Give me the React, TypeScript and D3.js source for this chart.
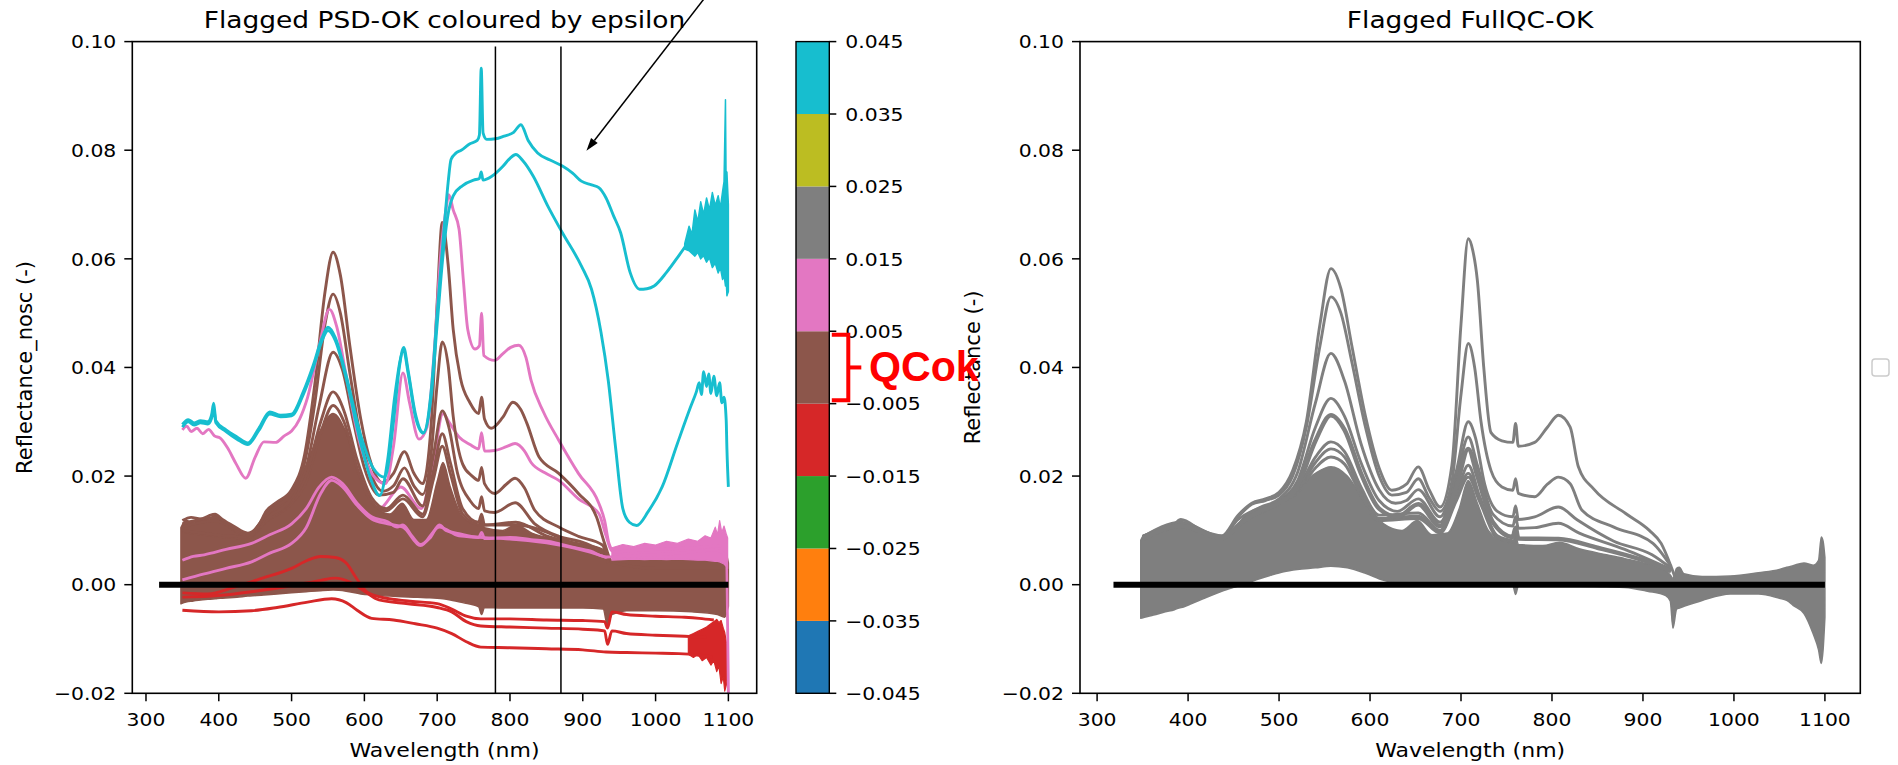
import React, { useEffect } from 'react';
import * as d3 from 'd3';

type Pt = [number, number];
type Band = [number, number, number];

// ---------- axes / legend values ----------
const X_DOMAIN: [number, number] = [281.2, 1138.9];
const Y_DOMAIN: [number, number] = [-0.02, 0.1];
const X_TICKS = [300, 400, 500, 600, 700, 800, 900, 1000, 1100];
const Y_TICKS = [-0.02, 0.0, 0.02, 0.04, 0.06, 0.08, 0.1];
const CB_BOUNDS = [-0.045, -0.035, -0.025, -0.015, -0.005, 0.005, 0.015, 0.025, 0.035, 0.045];
const CB_COLORS = ['#1f77b4', '#ff7f0e', '#2ca02c', '#d62728', '#8c564b', '#e377c2', '#7f7f7f', '#bcbd22', '#17becf'];
const QC_RANGE: [number, number] = [-0.005, 0.005];
const V_LINES = [780, 870];
const V_LINE_SPAN: [number, number] = [-0.0202, 0.0991];
const ZERO_SPAN: [number, number] = [318, 1100];
const ARROW_FROM: Pt = [1069, 0.1083];
const ARROW_TO: Pt = [905, 0.0799];

const EPS_CYAN = 0.04;
const EPS_PINK = 0.01;
const EPS_BROWN = 0.0;
const EPS_RED = -0.01;
const GRAY = '#7f7f7f';

// ---------- left panel: PSD-OK spectra ----------
const CYAN_1: Pt[] = [[350,0.0295],[358,0.0304],[366,0.0298],[375,0.0302],[385,0.0300],[390,0.0312],[393,0.0334],[396,0.0302],[410,0.0285],[425,0.0272],[440,0.0261],[455,0.0288],[470,0.0318],[485,0.0312],[500,0.0314],[516,0.0355],[530,0.0405],[542,0.0455],[550,0.0474],[560,0.0455],[575,0.0385],[595,0.0275],[612,0.0215],[628,0.0198],[640,0.0300],[648,0.0400],[654,0.0437],[660,0.0395],[670,0.0315],[681,0.0280],[692,0.0360],[700,0.0500],[709,0.0648],[715,0.0740],[719,0.0783],[726,0.0795],[733,0.0800],[745,0.0812],[755,0.0818],[758,0.0828],[760.5,0.0951],[763,0.0832],[768,0.0820],[780,0.0821],[792,0.0826],[805,0.0833],[815,0.0847],[825,0.0818],[838,0.0795],[855,0.0782],[872,0.0771],[886,0.0758],[898,0.0743],[912,0.0736],[922,0.0731],[932,0.0712],[942,0.0680],[952,0.0648],[965,0.0575],[978,0.0544],[988,0.0545],[998,0.0550],[1015,0.0575],[1032,0.0606],[1042,0.0625]];
const CYAN_1_NOISE: Band[] = [[1040,0.0618,0.0628],[1046,0.0615,0.0660],[1050,0.0610,0.0645],[1054,0.0605,0.0690],[1058,0.0612,0.0668],[1062,0.0600,0.0705],[1066,0.0606,0.0682],[1070,0.0594,0.0712],[1074,0.0602,0.0690],[1078,0.0584,0.0722],[1082,0.0592,0.0698],[1086,0.0574,0.0716],[1089,0.0584,0.0694],[1092,0.0562,0.0724],[1094,0.0570,0.0742],[1096,0.0550,0.0893],[1097,0.0560,0.0720],[1098,0.0532,0.0760],[1100,0.0540,0.0700]];
const CYAN_2: Pt[] = [[350,0.0290],[358,0.0300],[366,0.0294],[375,0.0298],[385,0.0296],[390,0.0306],[393,0.0326],[396,0.0298],[410,0.0282],[425,0.0268],[440,0.0258],[455,0.0284],[470,0.0314],[485,0.0309],[500,0.0311],[516,0.0350],[530,0.0400],[542,0.0450],[550,0.0468],[560,0.0450],[575,0.0380],[595,0.0260],[610,0.0190],[621,0.0164],[632,0.0230],[642,0.0350],[654,0.0431],[660,0.0390],[670,0.0310],[681,0.0279],[692,0.0350],[700,0.0480],[709,0.0620],[716,0.0690],[722,0.0716],[735,0.0735],[750,0.0745],[758,0.0748],[760.5,0.0760],[763,0.0745],[775,0.0752],[790,0.0770],[800,0.0785],[808,0.0792],[818,0.0780],[832,0.0752],[852,0.0697],[872,0.0648],[898,0.0587],[912,0.0544],[925,0.0465],[935,0.0376],[945,0.0253],[955,0.0140],[964,0.0115],[974,0.0109],[990,0.0135],[1009,0.0180],[1030,0.0260],[1048,0.0327],[1056,0.0355],[1060,0.0372],[1063,0.0350],[1066,0.0392],[1070,0.0365],[1073,0.0388],[1076,0.0352],[1080,0.0384],[1084,0.0348],[1088,0.0372],[1091,0.0335],[1094,0.0345],[1097,0.0303],[1098,0.0250],[1100,0.0180]];

const PINK_1: Pt[] = [[350,0.0285],[356,0.0292],[362,0.0282],[370,0.0288],[378,0.0278],[386,0.0286],[394,0.0274],[402,0.0270],[412,0.0252],[424,0.0222],[437,0.0196],[450,0.0235],[462,0.0263],[478,0.0262],[490,0.0274],[500,0.0283],[511,0.0305],[522,0.0345],[538,0.0440],[552,0.0507],[562,0.0475],[575,0.0385],[592,0.0270],[610,0.0205],[629,0.0186],[640,0.0255],[653,0.0390],[662,0.0335],[675,0.0268],[686,0.0290],[696,0.0430],[705,0.0610],[712,0.0690],[716,0.0718],[722,0.0690],[730,0.0655],[736,0.0560],[742,0.0470],[752,0.0434],[758,0.0440],[761,0.0500],[764,0.0422],[779,0.0413],[790,0.0425],[801,0.0437],[812,0.0441],[822,0.0418],[829,0.0376],[846,0.0318],[867,0.0266],[894,0.0205],[922,0.0150],[930,0.0118],[936,0.0076],[944,0.0060],[960,0.0062],[1000,0.0065],[1050,0.0068],[1090,0.0072]];
const PINK_2: Pt[] = [[350,0.0100],[400,0.0108],[440,0.0090],[480,0.0140],[520,0.0210],[545,0.0280],[557,0.0300],[575,0.0260],[600,0.0180],[620,0.0140],[650,0.0180],[678,0.0140],[695,0.0230],[708,0.0315],[716,0.0300],[730,0.0272],[745,0.0258],[757,0.0250],[761,0.0280],[765,0.0246],[779,0.0247],[795,0.0254],[807,0.0260],[820,0.0246],[829,0.0225],[848,0.0206],[867,0.0192],[894,0.0158],[922,0.0131],[932,0.0090],[940,0.0062],[1000,0.0063],[1050,0.0066],[1095,0.0070]];
const PINK_3: Pt[] = [[350,0.0045],[365,0.0052],[380,0.0055],[410,0.0065],[445,0.0076],[470,0.0092],[500,0.0112],[520,0.0140],[538,0.0180],[555,0.0198],[570,0.0186],[590,0.0150],[610,0.0125],[632,0.0116],[645,0.0106],[653,0.0110],[665,0.0090],[677,0.0074],[690,0.0086],[703,0.0110],[712,0.0100],[730,0.0094],[757,0.0087],[761,0.0096],[765,0.0085],[800,0.0087],[829,0.0083],[860,0.0078],[883,0.0070],[910,0.0062],[933,0.0051],[950,0.0052],[1000,0.0055],[1050,0.0060],[1080,0.0064],[1097,0.0055],[1100,-0.0200]];
const PINK_4: Pt[] = [[350,0.0009],[380,0.0020],[410,0.0030],[445,0.0042],[470,0.0058],[500,0.0076],[520,0.0105],[540,0.0168],[555,0.0192],[570,0.0180],[590,0.0146],[610,0.0121],[632,0.0112],[653,0.0106],[677,0.0072],[703,0.0106],[730,0.0090],[800,0.0084],[860,0.0075],[910,0.0060],[933,0.0050]];
const PINK_NOISE: Band[] = [[940,0.0045,0.0068],[955,0.0046,0.0074],[970,0.0047,0.0070],[985,0.0046,0.0076],[1000,0.0047,0.0073],[1015,0.0046,0.0080],[1030,0.0047,0.0076],[1045,0.0046,0.0084],[1058,0.0045,0.0080],[1068,0.0045,0.0090],[1076,0.0044,0.0086],[1082,0.0043,0.0106],[1085,0.0043,0.0092],[1088,0.0042,0.0118],[1091,0.0040,0.0096],[1094,0.0038,0.0108],[1097,0.0034,0.0094],[1099,0.0030,0.0086]];

const BROWN_BAND: Band[] = [[348,-0.0035,0.0105],[355,-0.0032,0.0118],[365,-0.0030,0.0115],[375,-0.0028,0.0122],[385,-0.0027,0.0120],[395,-0.0026,0.0128],[402,-0.0025,0.0118],[415,-0.0024,0.0112],[425,-0.0023,0.0100],[440,-0.0021,0.0093],[452,-0.0020,0.0098],[462,-0.0019,0.0125],[480,-0.0017,0.0150],[500,-0.0015,0.0170],[520,-0.0013,0.0220],[540,-0.0011,0.0285],[557,-0.0010,0.0315],[575,-0.0012,0.0280],[595,-0.0017,0.0195],[615,-0.0019,0.0145],[635,-0.0021,0.0130],[652,-0.0022,0.0150],[668,-0.0023,0.0120],[685,-0.0024,0.0120],[700,-0.0025,0.0190],[708,-0.0026,0.0225],[718,-0.0028,0.0180],[735,-0.0033,0.0125],[757,-0.0041,0.0110],[761,-0.0055,0.0125],[765,-0.0042,0.0105],[790,-0.0043,0.0100],[808,-0.0043,0.0110],[830,-0.0043,0.0095],[870,-0.0043,0.0082],[900,-0.0043,0.0075],[928,-0.0045,0.0065],[934,-0.0075,0.0050],[940,-0.0055,0.0045],[960,-0.0048,0.0045],[1000,-0.0048,0.0045],[1050,-0.0050,0.0048],[1085,-0.0055,0.0055],[1095,-0.0060,0.0065],[1100,-0.0040,0.0040]];
const BROWN_1: Pt[] = [[350,0.0118],[362,0.0124],[375,0.0121],[385,0.0126],[395,0.0130],[405,0.0120],[420,0.0108],[440,0.0095],[455,0.0110],[465,0.0135],[480,0.0152],[500,0.0175],[518,0.0240],[532,0.0370],[546,0.0540],[557,0.0612],[567,0.0570],[580,0.0440],[595,0.0305],[610,0.0220],[625,0.0188],[640,0.0205],[655,0.0245],[668,0.0205],[680,0.0186],[692,0.0300],[700,0.0520],[707,0.0667],[715,0.0590],[722,0.0470],[732,0.0380],[745,0.0335],[757,0.0315],[761,0.0345],[765,0.0305],[774,0.0288],[790,0.0308],[804,0.0336],[815,0.0322],[823,0.0298],[840,0.0235],[867,0.0205],[894,0.0168],[919,0.0124],[930,0.0076],[940,0.0042],[1000,0.0030],[1100,0.0030]];
const BROWN_2: Pt[] = [[350,0.0112],[395,0.0124],[420,0.0104],[440,0.0092],[465,0.0128],[480,0.0146],[500,0.0167],[518,0.0225],[532,0.0335],[546,0.0480],[557,0.0535],[567,0.0500],[580,0.0390],[595,0.0270],[610,0.0200],[625,0.0172],[640,0.0182],[655,0.0215],[668,0.0182],[680,0.0166],[692,0.0245],[700,0.0370],[707,0.0447],[715,0.0405],[722,0.0310],[735,0.0222],[748,0.0200],[757,0.0192],[761,0.0216],[765,0.0186],[779,0.0168],[795,0.0185],[807,0.0196],[820,0.0178],[834,0.0137],[867,0.0106],[894,0.0089],[927,0.0073],[935,0.0040]];
const BROWN_3: Pt[] = [[350,0.0106],[395,0.0118],[440,0.0090],[465,0.0122],[500,0.0160],[520,0.0215],[538,0.0330],[557,0.0428],[570,0.0395],[585,0.0300],[600,0.0215],[620,0.0165],[640,0.0170],[653,0.0195],[680,0.0145],[695,0.0240],[707,0.0320],[716,0.0290],[728,0.0205],[745,0.0155],[757,0.0140],[761,0.0162],[765,0.0136],[779,0.0133],[807,0.0151],[834,0.0112],[867,0.0089],[900,0.0078],[930,0.0060]];
const BROWN_4: Pt[] = [[350,0.0100],[440,0.0088],[465,0.0118],[500,0.0155],[520,0.0200],[540,0.0300],[557,0.0355],[572,0.0320],[590,0.0230],[610,0.0160],[630,0.0140],[653,0.0165],[680,0.0130],[695,0.0210],[707,0.0278],[718,0.0225],[735,0.0140],[757,0.0115],[761,0.0130],[765,0.0110],[808,0.0115],[850,0.0090],[900,0.0072],[930,0.0058]];
const BROWN_5: Pt[] = [[350,0.0098],[440,0.0086],[465,0.0116],[500,0.0150],[520,0.0190],[540,0.0280],[557,0.0330],[572,0.0300],[590,0.0215],[610,0.0152],[630,0.0136],[653,0.0158],[680,0.0125],[695,0.0195],[707,0.0255],[718,0.0205],[735,0.0130],[760,0.0110],[808,0.0110],[900,0.0070],[930,0.0058]];

const RED_A: Pt[] = [[350,-0.0015],[385,-0.0017],[420,-0.0005],[460,0.0012],[500,0.0030],[522,0.0045],[540,0.0052],[560,0.0050],[575,0.0040],[590,0.0010],[605,-0.0015],[630,-0.0025],[660,-0.0030],[700,-0.0035],[720,-0.0045],[740,-0.0058],[760,-0.0063],[800,-0.0063],[850,-0.0065],[900,-0.0066],[930,-0.0068],[934,-0.0080],[940,-0.0050],[960,-0.0055],[1000,-0.0058],[1040,-0.0060],[1060,-0.0062],[1080,-0.0065]];
const RED_B: Pt[] = [[350,-0.0023],[400,-0.0020],[450,-0.0012],[500,-0.0002],[540,0.0008],[560,0.0012],[580,0.0005],[600,-0.0012],[620,-0.0028],[660,-0.0035],[700,-0.0042],[720,-0.0050],[740,-0.0068],[760,-0.0076],[800,-0.0078],[850,-0.0080],[900,-0.0082],[930,-0.0085],[934,-0.0110],[940,-0.0085],[960,-0.0090],[1000,-0.0093],[1040,-0.0095],[1070,-0.0097]];
const RED_C: Pt[] = [[350,-0.0047],[400,-0.0050],[445,-0.0048],[480,-0.0042],[522,-0.0032],[555,-0.0026],[575,-0.0033],[590,-0.0047],[610,-0.0062],[640,-0.0065],[670,-0.0072],[700,-0.0080],[720,-0.0090],[740,-0.0105],[760,-0.0115],[800,-0.0116],[850,-0.0118],[900,-0.0120],[932,-0.0124],[960,-0.0125],[1000,-0.0126],[1032,-0.0127],[1060,-0.0130],[1078,-0.0133]];
const RED_NOISE: Band[] = [[1045,-0.0128,-0.0094],[1052,-0.0134,-0.0090],[1058,-0.0128,-0.0086],[1064,-0.0140,-0.0082],[1070,-0.0134,-0.0078],[1076,-0.0148,-0.0072],[1080,-0.0140,-0.0068],[1084,-0.0160,-0.0064],[1087,-0.0150,-0.0070],[1090,-0.0182,-0.0066],[1093,-0.0170,-0.0080],[1095,-0.0196,-0.0088],[1097,-0.0186,-0.0104],[1100,-0.0160,-0.0120]];

// ---------- right panel: FullQC-OK spectra ----------
const GRAY_BAND: Band[] = [[348,-0.0062,0.0082],[352,-0.0060,0.0092],[362,-0.0056,0.0096],[375,-0.0050,0.0100],[385,-0.0046,0.0112],[390,-0.0043,0.0120],[395,-0.0041,0.0113],[402,-0.0036,0.0106],[415,-0.0027,0.0096],[437,-0.0012,0.0088],[450,-0.0005,0.0100],[460,0.0000,0.0122],[475,0.0009,0.0140],[490,0.0017,0.0148],[505,0.0024,0.0160],[520,0.0028,0.0178],[540,0.0031,0.0205],[557,0.0034,0.0217],[575,0.0031,0.0200],[595,0.0021,0.0150],[615,0.0008,0.0112],[635,0.0001,0.0100],[652,0.0000,0.0118],[668,0.0000,0.0092],[685,-0.0001,0.0095],[698,-0.0001,0.0140],[708,-0.0001,0.0192],[718,-0.0001,0.0150],[730,-0.0001,0.0100],[745,-0.0002,0.0082],[757,-0.0002,0.0078],[760,-0.0018,0.0092],[763,-0.0003,0.0074],[790,-0.0003,0.0072],[808,-0.0003,0.0078],[830,-0.0003,0.0066],[860,-0.0004,0.0055],[880,-0.0005,0.0048],[905,-0.0012,0.0038],[925,-0.0020,0.0026],[930,-0.0030,0.0018],[933,-0.0080,0.0012],[937,-0.0045,0.0030],[940,-0.0043,0.0032],[945,-0.0040,0.0020],[965,-0.0029,0.0015],[996,-0.0017,0.0016],[1027,-0.0017,0.0022],[1050,-0.0025,0.0028],[1058,-0.0029,0.0032],[1065,-0.0038,0.0035],[1077,-0.0053,0.0040],[1087,-0.0090,0.0036],[1093,-0.0120,0.0045],[1096,-0.0145,0.0088],[1098,-0.0120,0.0080],[1100,-0.0060,0.0050]];
const GRAY_1: Pt[] = [[350,0.0090],[385,0.0110],[392,0.0120],[415,0.0100],[437,0.0090],[455,0.0128],[470,0.0150],[485,0.0158],[500,0.0170],[515,0.0210],[530,0.0300],[545,0.0480],[557,0.0582],[568,0.0545],[580,0.0440],[595,0.0310],[610,0.0215],[624,0.0174],[640,0.0185],[653,0.0217],[665,0.0175],[677,0.0143],[690,0.0220],[700,0.0480],[708,0.0637],[713,0.0615],[718,0.0560],[725,0.0400],[733,0.0280],[745,0.0265],[757,0.0262],[760,0.0297],[763,0.0255],[781,0.0262],[795,0.0290],[807,0.0312],[820,0.0290],[829,0.0217],[846,0.0176],[881,0.0131],[907,0.0100],[920,0.0076],[931,0.0033],[936,0.0010]];
const GRAY_2: Pt[] = [[350,0.0088],[392,0.0115],[437,0.0088],[455,0.0125],[470,0.0148],[485,0.0155],[500,0.0165],[515,0.0200],[530,0.0290],[545,0.0440],[557,0.0530],[568,0.0500],[580,0.0410],[595,0.0290],[610,0.0200],[624,0.0165],[640,0.0170],[653,0.0195],[665,0.0160],[677,0.0135],[690,0.0190],[700,0.0350],[708,0.0444],[715,0.0400],[722,0.0300],[733,0.0210],[745,0.0180],[757,0.0174],[760,0.0195],[763,0.0168],[781,0.0162],[795,0.0185],[807,0.0198],[820,0.0186],[833,0.0137],[868,0.0106],[911,0.0076],[931,0.0033]];
const GRAY_3: Pt[] = [[350,0.0088],[392,0.0112],[437,0.0088],[455,0.0120],[480,0.0143],[500,0.0158],[520,0.0205],[540,0.0335],[557,0.0426],[572,0.0375],[590,0.0260],[610,0.0175],[628,0.0150],[640,0.0155],[653,0.0175],[677,0.0125],[695,0.0210],[708,0.0300],[716,0.0270],[726,0.0185],[740,0.0135],[757,0.0125],[760,0.0145],[763,0.0120],[781,0.0125],[807,0.0143],[828,0.0119],[868,0.0080],[910,0.0055],[931,0.0030]];
const GRAY_4: Pt[] = [[350,0.0086],[392,0.0110],[437,0.0087],[460,0.0118],[480,0.0140],[500,0.0155],[520,0.0190],[540,0.0290],[557,0.0343],[572,0.0310],[590,0.0225],[610,0.0155],[630,0.0135],[653,0.0158],[677,0.0115],[695,0.0195],[708,0.0272],[718,0.0220],[735,0.0130],[757,0.0108],[760,0.0125],[763,0.0104],[781,0.0105],[807,0.0113],[830,0.0095],[880,0.0065],[931,0.0028]];
const GRAY_5: Pt[] = [[350,0.0084],[392,0.0108],[437,0.0086],[460,0.0116],[480,0.0136],[500,0.0150],[520,0.0180],[540,0.0265],[557,0.0312],[572,0.0285],[590,0.0205],[610,0.0140],[630,0.0125],[653,0.0148],[677,0.0108],[695,0.0180],[708,0.0250],[718,0.0200],[735,0.0115],[757,0.0088],[760,0.0105],[763,0.0085],[807,0.0084],[850,0.0068],[900,0.0045],[931,0.0025]];
const GRAY_6: Pt[] = [[460,0.0120],[500,0.0150],[520,0.0175],[540,0.0235],[557,0.0263],[572,0.0245],[590,0.0180],[610,0.0128],[653,0.0132],[677,0.0100],[695,0.0165],[708,0.0220],[720,0.0165],[740,0.0090],[760,0.0080]];
const GRAY_7: Pt[] = [[470,0.0135],[500,0.0150],[520,0.0172],[540,0.0225],[557,0.0250],[572,0.0235],[590,0.0172],[610,0.0122],[653,0.0126],[677,0.0097],[695,0.0160],[708,0.0205],[720,0.0160],[740,0.0088],[760,0.0078]];
const GRAY_8: Pt[] = [[480,0.0140],[500,0.0152],[520,0.0170],[540,0.0215],[557,0.0235],[572,0.0222],[590,0.0165],[610,0.0118],[653,0.0122],[677,0.0095],[695,0.0155],[708,0.0198],[720,0.0155],[740,0.0086],[760,0.0077]];

// ---------- layout ----------
const W = 1898, H = 765;
const PY0 = 41.6, PY1 = 693.3;
const LEFT_X: [number, number] = [132.3, 756.7];
const RIGHT_X: [number, number] = [1080, 1860.3];
const CB_X: [number, number] = [796, 829.3];
const FONT = "'DejaVu Sans', 'Liberation Sans', sans-serif";
const SX = 1.1;
const TICK_FS = 18.5;
const LABEL_FS = 20;
const TITLE_FS = 23;
const LW = 2.9;

const cbColor = d3.scaleThreshold<number, string>().domain(CB_BOUNDS.slice(1, -1)).range(CB_COLORS);
const fmtMinus = (s: string) => s.replace('-', '\u2212');

function T(props: { x: number; y: number; size: number; anchor?: string; sx?: number; dy?: string; children: any; rotate?: number; weight?: string; fill?: string; family?: string }) {
  const { x, y, size, anchor = 'start', sx = SX, dy, children, rotate, weight, fill = '#000', family = FONT } = props;
  const tr = rotate ? `translate(${x},${y}) rotate(${rotate})` : `translate(${x},${y}) scale(${sx},1)`;
  return (
    <text transform={tr} fontSize={size} textAnchor={anchor} dy={dy} fontFamily={family} fontWeight={weight} fill={fill}>
      {children}
    </text>
  );
}

type Sc = { xs: d3.ScaleLinear<number, number>; ys: d3.ScaleLinear<number, number> };

function lineP({ xs, ys }: Sc, data: Pt[]) {
  return d3.line<Pt>().x(d => xs(d[0])).y(d => ys(d[1])).curve(d3.curveMonotoneX)(data) || '';
}
function bandP({ xs, ys }: Sc, data: Band[], jagged = false) {
  return d3.area<Band>().x(d => xs(d[0])).y0(d => ys(d[1])).y1(d => ys(d[2])).curve(jagged ? d3.curveLinear : d3.curveMonotoneX)(data) || '';
}

function Axes(props: { xr: [number, number]; title: string; ylabel: string; id: string; render: (s: Sc) => any; extra?: (s: Sc) => any }) {
  const { xr, title, ylabel, id, render, extra } = props;
  const xs = d3.scaleLinear().domain(X_DOMAIN).range(xr);
  const ys = d3.scaleLinear().domain(Y_DOMAIN).range([PY1, PY0]);
  const s = { xs, ys };
  const cx = (xr[0] + xr[1]) / 2;
  const fy = d3.format('.2f');
  return (
    <g>
      <defs>
        <clipPath id={id}>
          <rect x={xr[0]} y={PY0} width={xr[1] - xr[0]} height={PY1 - PY0} />
        </clipPath>
      </defs>
      <g clipPath={`url(#${id})`}>{render(s)}</g>
      {extra ? extra(s) : null}
      <rect x={xr[0]} y={PY0} width={xr[1] - xr[0]} height={PY1 - PY0} fill="none" stroke="#000" strokeWidth={1.6} />
      {X_TICKS.map(t => (
        <g key={'x' + t}>
          <line x1={xs(t)} x2={xs(t)} y1={PY1} y2={PY1 + 8} stroke="#000" strokeWidth={1.5} />
          <T x={xs(t)} y={PY1 + 32.5} size={TICK_FS} anchor="middle">{String(t)}</T>
        </g>
      ))}
      {Y_TICKS.map(t => (
        <g key={'y' + t}>
          <line x1={xr[0] - 8} x2={xr[0]} y1={ys(t)} y2={ys(t)} stroke="#000" strokeWidth={1.5} />
          <T x={xr[0] - 16} y={ys(t)} size={TICK_FS} anchor="end" dy="0.36em">{fmtMinus(fy(t))}</T>
        </g>
      ))}
      <T x={cx} y={PY1 + 63.5} size={LABEL_FS} anchor="middle">Wavelength (nm)</T>
      <T x={xr[0] - 100} y={(PY0 + PY1) / 2} size={LABEL_FS * 1.05} anchor="middle" rotate={-90}>{ylabel}</T>
      <T x={cx} y={28.3} size={TITLE_FS} anchor="middle" sx={1.15}>{title}</T>
    </g>
  );
}

function App() {
  useEffect(() => {
    document.body.style.margin = '0';
    document.body.style.overflow = 'hidden';
  }, []);

  const cbY = d3.scaleLinear().domain([CB_BOUNDS[0], CB_BOUNDS[CB_BOUNDS.length - 1]]).range([PY1, PY0]);
  const f3 = d3.format('.3f');

  const leftRender = (s: Sc) => {
    const { xs, ys } = s;
    const cC = cbColor(EPS_CYAN), cP = cbColor(EPS_PINK), cB = cbColor(EPS_BROWN), cR = cbColor(EPS_RED);
    return (
      <g fill="none" strokeLinejoin="round">
        <path d={lineP(s, PINK_2)} stroke={cP} strokeWidth={LW} />
        <path d={bandP(s, BROWN_BAND)} fill={cB} stroke={cB} strokeWidth={1.5} />
        {[BROWN_5, BROWN_4, BROWN_3, BROWN_2, BROWN_1].map((d, i) => (
          <path key={'b' + i} d={lineP(s, d)} stroke={cB} strokeWidth={LW} />
        ))}
        <path d={bandP(s, RED_NOISE, true)} fill={cR} stroke={cR} strokeWidth={1.2} />
        {[RED_C, RED_B, RED_A].map((d, i) => (
          <path key={'r' + i} d={lineP(s, d)} stroke={cR} strokeWidth={LW} />
        ))}
        <path d={bandP(s, PINK_NOISE, true)} fill={cP} stroke={cP} strokeWidth={1.2} />
        {[PINK_4, PINK_3, PINK_1].map((d, i) => (
          <path key={'p' + i} d={lineP(s, d)} stroke={cP} strokeWidth={LW} />
        ))}
        <path d={bandP(s, CYAN_1_NOISE, true)} fill={cC} stroke={cC} strokeWidth={1.5} />
        <path d={lineP(s, CYAN_2)} stroke={cC} strokeWidth={LW} />
        <path d={lineP(s, CYAN_1)} stroke={cC} strokeWidth={LW} />
        <line x1={xs(ZERO_SPAN[0])} x2={xs(ZERO_SPAN[1])} y1={ys(0)} y2={ys(0)} stroke="#000" strokeWidth={6} />
        {V_LINES.map(v => (
          <line key={'v' + v} x1={xs(v)} x2={xs(v)} y1={ys(V_LINE_SPAN[1])} y2={ys(V_LINE_SPAN[0])} stroke="#000" strokeWidth={1.5} />
        ))}
      </g>
    );
  };

  const leftExtra = (s: Sc) => {
    const { xs, ys } = s;
    const x2 = xs(ARROW_TO[0]), y2 = ys(ARROW_TO[1]);
    const x1 = xs(ARROW_FROM[0]), y1 = ys(ARROW_FROM[1]);
    const len = Math.hypot(x2 - x1, y2 - y1);
    const ux = (x2 - x1) / len, uy = (y2 - y1) / len;
    const hl = 13, hw = 4.2;
    const bx = x2 - ux * hl, by = y2 - uy * hl;
    const head = `M${x2},${y2}L${bx - uy * hw},${by + ux * hw}L${bx + uy * hw},${by - ux * hw}Z`;
    return (
      <g>
        <line x1={x1} y1={y1} x2={bx} y2={by} stroke="#000" strokeWidth={1.5} />
        <path d={head} fill="#000" />
      </g>
    );
  };

  const rightRender = (s: Sc) => {
    const { xs, ys } = s;
    return (
      <g fill="none" strokeLinejoin="round">
        <path d={bandP(s, GRAY_BAND)} fill={GRAY} stroke={GRAY} strokeWidth={1.5} />
        {[GRAY_8, GRAY_7, GRAY_6, GRAY_4, GRAY_3, GRAY_2, GRAY_1].map((d, i) => (
          <path key={'g' + i} d={lineP(s, d)} stroke={GRAY} strokeWidth={LW} />
        ))}
        <path d={lineP(s, GRAY_5)} stroke={GRAY} strokeWidth={4.5} />
        <line x1={xs(ZERO_SPAN[0])} x2={xs(ZERO_SPAN[1])} y1={ys(0)} y2={ys(0)} stroke="#000" strokeWidth={6} />
      </g>
    );
  };

  const qTop = cbY(QC_RANGE[1]) + 3.5, qBot = cbY(QC_RANGE[0]) - 3.5, qMid = (qTop + qBot) / 2;
  const bx0 = CB_X[1] + 2.5, bx1 = CB_X[1] + 19;

  return (
    <svg width={W} height={H} viewBox={`0 0 ${W} ${H}`} style={{ position: 'absolute', left: 0, top: 0, background: '#fff' }}>
      <rect x={0} y={0} width={W} height={H} fill="#fff" />
      <Axes xr={LEFT_X} id="clipL" title="Flagged PSD-OK coloured by epsilon" ylabel="Reflectance_nosc (-)" render={leftRender} extra={leftExtra} />
      <Axes xr={RIGHT_X} id="clipR" title="Flagged FullQC-OK" ylabel="Reflectance (-)" render={rightRender} />

      {/* colorbar */}
      <g>
        {CB_COLORS.map((c, i) => (
          <rect key={'cb' + i} x={CB_X[0]} width={CB_X[1] - CB_X[0]} y={cbY(CB_BOUNDS[i + 1])} height={cbY(CB_BOUNDS[i]) - cbY(CB_BOUNDS[i + 1])} fill={c} />
        ))}
        <rect x={CB_X[0]} y={PY0} width={CB_X[1] - CB_X[0]} height={PY1 - PY0} fill="none" stroke="#000" strokeWidth={1.4} />
        {CB_BOUNDS.map(b => (
          <g key={'cbt' + b}>
            <line x1={CB_X[1]} x2={CB_X[1] + 7} y1={cbY(b)} y2={cbY(b)} stroke="#000" strokeWidth={1.5} />
            <T x={CB_X[1] + 16} y={cbY(b)} size={TICK_FS} dy="0.36em">{fmtMinus(f3(b))}</T>
          </g>
        ))}
      </g>

      {/* QCok annotation */}
      <g stroke="#ff0000" strokeWidth={4} fill="none">
        <path d={`M${bx0},${qTop}H${bx1}V${qBot}H${bx0}`} />
        <path d={`M${bx1},${qMid}H${bx1 + 13}`} />
      </g>
      <T x={869} y={qMid + 14} size={42} sx={0.98} weight="bold" fill="#ff0000" family="'Liberation Sans', Arial, sans-serif">QCok</T>

      {/* empty legend */}
      <rect x={1872} y={359} width={17} height={17} rx={3} fill="#fff" stroke="#cccccc" strokeWidth={1.5} />
    </svg>
  );
}

export default App;
